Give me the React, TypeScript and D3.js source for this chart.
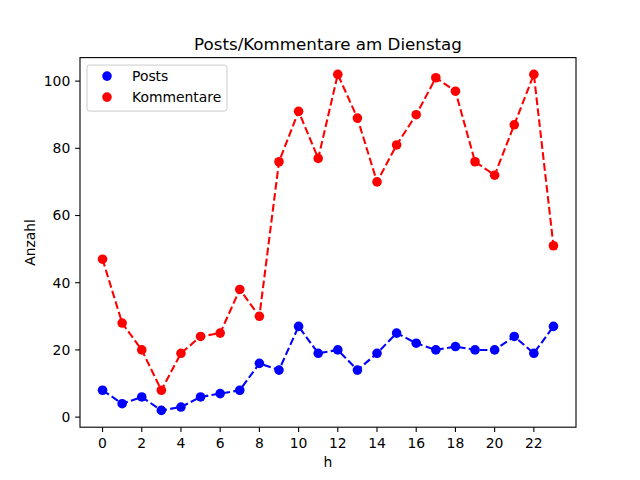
import { useEffect, useRef } from 'react';
import * as d3 from 'd3';

const hours = d3.range(0, 24);
const posts = [8, 4, 6, 2, 3, 6, 7, 8, 16, 14, 27, 19, 20, 14, 19, 25, 22, 20, 21, 20, 20, 24, 19, 27];
const kommentare = [47, 28, 20, 8, 19, 24, 25, 38, 30, 76, 91, 77, 102, 89, 70, 81, 90, 101, 97, 76, 72, 87, 102, 51];
const xTicks = [0, 2, 4, 6, 8, 10, 12, 14, 16, 18, 20, 22];
const yTicks = [0, 20, 40, 60, 80, 100];
const seriesNames = ['Posts', 'Kommentare'];
const seriesColors = ['#0000ff', '#ff0000'];

const W = 640;
const H = 480;
const FONT = 'DejaVu Sans, sans-serif';
const MARKER_R = 4.8;

export default function App() {
  const svgRef = useRef<SVGSVGElement>(null);

  useEffect(() => {
    if (!svgRef.current) return;
    const svg = d3.select(svgRef.current);
    svg.selectAll('*').remove();

    const margin = { left: 80, right: 64, top: 57.6, bottom: 52.8 };
    const innerW = W - margin.left - margin.right;
    const innerH = H - margin.top - margin.bottom;

    const all = [...posts, ...kommentare];
    const yMin = d3.min(all) as number;
    const yMax = d3.max(all) as number;
    const yPad = (yMax - yMin) * 0.05;
    const xPad = 23 * 0.05;

    const x = d3.scaleLinear().domain([0 - xPad, 23 + xPad]).range([0, innerW]);
    const y = d3.scaleLinear().domain([yMin - yPad, yMax + yPad]).range([innerH, 0]);

    const g = svg.append('g').attr('transform', `translate(${margin.left},${margin.top})`);

    const line = d3.line<number>()
      .x((d, i) => x(hours[i]))
      .y(d => y(d));

    [posts, kommentare].forEach((data, si) => {
      g.append('path')
        .datum(data)
        .attr('fill', 'none')
        .attr('stroke', seriesColors[si])
        .attr('stroke-width', 2.08)
        .attr('stroke-dasharray', '7.7,3.33')
        .attr('d', line);

      g.selectAll(`.dot${si}`)
        .data(data)
        .enter().append('circle')
        .attr('cx', (d, i) => x(hours[i]))
        .attr('cy', d => y(d))
        .attr('r', MARKER_R)
        .attr('fill', seriesColors[si]);
    });

    // frame
    g.append('rect')
      .attr('width', innerW)
      .attr('height', innerH)
      .attr('fill', 'none')
      .attr('stroke', '#000')
      .attr('stroke-width', 1.1);

    // x axis
    const xAxis = g.append('g').attr('transform', `translate(0,${innerH})`);
    xTicks.forEach(t => {
      xAxis.append('line')
        .attr('x1', x(t)).attr('x2', x(t))
        .attr('y1', 0).attr('y2', 4.86)
        .attr('stroke', '#000').attr('stroke-width', 1.1);
      xAxis.append('text')
        .attr('x', x(t)).attr('y', 4.86 + 4.86 + 11)
        .attr('text-anchor', 'middle')
        .attr('font-family', FONT).attr('font-size', 13.9)
        .text(t);
    });

    // y axis
    const yAxis = g.append('g');
    yTicks.forEach(t => {
      yAxis.append('line')
        .attr('x1', -4.86).attr('x2', 0)
        .attr('y1', y(t)).attr('y2', y(t))
        .attr('stroke', '#000').attr('stroke-width', 1.1);
      yAxis.append('text')
        .attr('x', -4.86 - 4.86).attr('y', y(t))
        .attr('dy', '0.35em')
        .attr('text-anchor', 'end')
        .attr('font-family', FONT).attr('font-size', 13.9)
        .text(t);
    });

    // labels
    svg.append('text')
      .attr('x', margin.left + innerW / 2).attr('y', margin.top - 8)
      .attr('text-anchor', 'middle')
      .attr('font-family', FONT).attr('font-size', 16.7)
      .text('Posts/Kommentare am Dienstag');

    svg.append('text')
      .attr('x', margin.left + innerW / 2).attr('y', 467)
      .attr('text-anchor', 'middle')
      .attr('font-family', FONT).attr('font-size', 13.9)
      .text('h');

    svg.append('text')
      .attr('transform', `translate(35,${margin.top + innerH / 2}) rotate(-90)`)
      .attr('text-anchor', 'middle')
      .attr('font-family', FONT).attr('font-size', 13.9)
      .text('Anzahl');

    // legend
    const lg = g.append('g').attr('transform', 'translate(7,7.5)');
    lg.append('rect')
      .attr('width', 140).attr('height', 46)
      .attr('rx', 2.5)
      .attr('fill', 'rgba(255,255,255,0.8)')
      .attr('stroke', '#cccccc').attr('stroke-width', 1);
    seriesNames.forEach((name, i) => {
      const cy = 11 + i * 21;
      lg.append('circle')
        .attr('cx', 20).attr('cy', cy).attr('r', MARKER_R)
        .attr('fill', seriesColors[i]);
      lg.append('text')
        .attr('x', 45).attr('y', cy).attr('dy', '0.35em')
        .attr('font-family', FONT).attr('font-size', 13.9)
        .text(name);
    });
  }, []);

  return (
    <div style={{ position: 'fixed', left: 0, top: 0, width: W, height: H, background: '#fff' }}>
      <svg ref={svgRef} width={W} height={H} style={{ display: 'block' }} />
    </div>
  );
}
